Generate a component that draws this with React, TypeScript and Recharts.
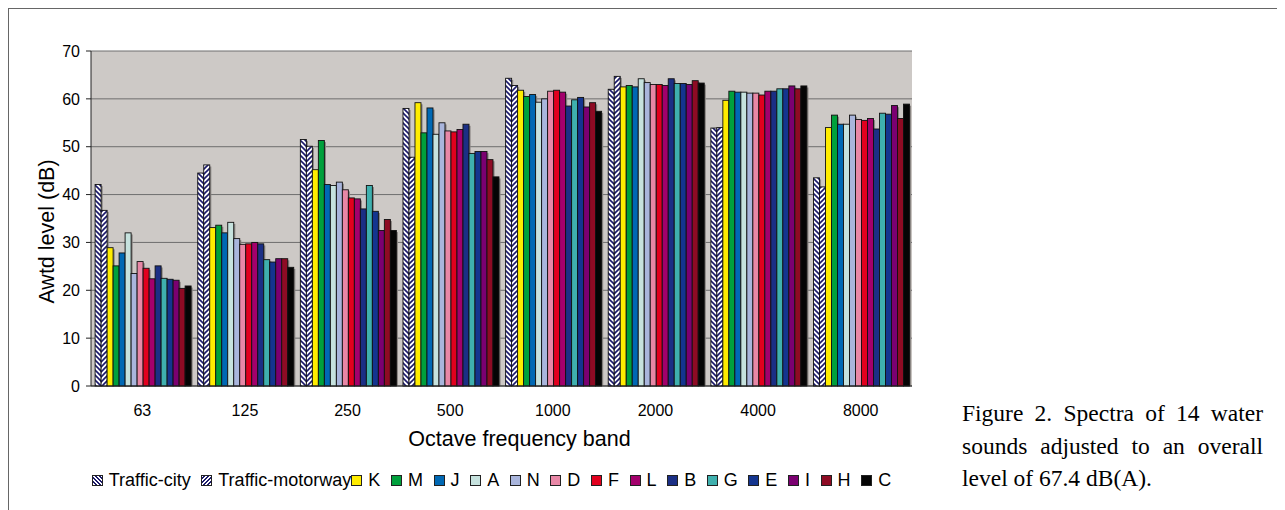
import React from 'react';
import { BarChart, Bar, XAxis, YAxis, CartesianGrid, Legend } from 'recharts';

const categories = ['63', '125', '250', '500', '1000', '2000', '4000', '8000'];
const yTicks = [0, 10, 20, 30, 40, 50, 60, 70];

const trafficCity = [42.1, 44.5, 51.5, 58.0, 64.3, 62.0, 53.9, 43.5];
const trafficMotorway = [36.7, 46.2, 50.1, 47.8, 62.8, 64.7, 54.0, 41.6];
const K = [28.9, 33.1, 45.2, 59.2, 61.8, 62.5, 59.7, 54.0];
const M = [25.1, 33.6, 51.3, 52.9, 60.5, 62.8, 61.6, 56.6];
const J = [27.8, 32.0, 42.1, 58.1, 60.9, 62.5, 61.4, 54.7];
const A = [32.0, 34.2, 41.9, 52.6, 59.3, 64.2, 61.4, 54.7];
const N = [23.5, 30.8, 42.6, 55.0, 60.0, 63.4, 61.2, 56.6];
const D = [26.0, 29.6, 41.0, 53.3, 61.6, 63.0, 61.2, 55.7];
const F = [24.6, 29.7, 39.3, 53.1, 61.8, 63.0, 60.8, 55.5];
const L = [22.4, 30.0, 39.1, 53.6, 61.4, 62.8, 61.6, 55.9];
const B = [25.1, 29.7, 37.0, 54.7, 58.5, 64.2, 61.6, 53.7];
const G = [22.5, 26.4, 41.9, 48.6, 59.8, 63.2, 62.1, 57.0];
const E = [22.3, 25.9, 36.5, 49.0, 60.3, 63.2, 62.1, 56.8];
const I = [22.1, 26.6, 32.5, 49.0, 58.3, 63.0, 62.7, 58.6];
const H = [20.4, 26.6, 34.8, 47.3, 59.2, 63.8, 62.1, 55.9];
const C = [20.9, 24.8, 32.5, 43.7, 57.4, 63.3, 62.7, 58.9];

const seriesNames = ['Traffic-city', 'Traffic-motorway', 'K', 'M', 'J', 'A', 'N', 'D', 'F', 'L', 'B', 'G', 'E', 'I', 'H', 'C'];
const seriesValues = [trafficCity, trafficMotorway, K, M, J, A, N, D, F, L, B, G, E, I, H, C];

const NAVY = '#1c1a6c';
const fills: Record<string, string> = {
  'Traffic-city': 'url(#patCity)',
  'Traffic-motorway': 'url(#patMotor)',
  K: '#ffec00',
  M: '#00a03c',
  J: '#0068b4',
  A: '#c6e2de',
  N: '#a9b5dc',
  D: '#e887a6',
  F: '#e2001e',
  L: '#a3006c',
  B: '#1b2f85',
  G: '#3fb0ae',
  E: '#14358f',
  I: '#7b0071',
  H: '#8e0b24',
  C: '#050505',
};
const legendBg: Record<string, string> = {
  'Traffic-city': `repeating-linear-gradient(45deg, #fff 0px, #fff 1.5px, ${NAVY} 1.5px, ${NAVY} 3px)`,
  'Traffic-motorway': `repeating-linear-gradient(-45deg, #fff 0px, #fff 1.5px, ${NAVY} 1.5px, ${NAVY} 3px)`,
};

const data = categories.map((band, i) => {
  const row: Record<string, string | number> = { band };
  seriesNames.forEach((name, s) => {
    row[name] = seriesValues[s][i];
  });
  return row;
});

const FONT = '"Liberation Sans", Arial, sans-serif';

const BarShape = (props: any) => {
  const { x, y, width, height, fill } = props;
  if (!height || height <= 0) return null;
  return (
    <g>
      <rect x={x + 1.6} y={y + 1.6} width={width} height={height - 1.6} fill="#8a8683" />
      <rect x={x} y={y} width={width} height={height} fill={fill} stroke="#111" strokeWidth={0.9} />
    </g>
  );
};

const LegendContent = () => (
  <div style={{ display: 'flex', alignItems: 'center', height: 24, fontFamily: FONT, fontSize: 18, color: '#000', whiteSpace: 'nowrap' }}>
    {seriesNames.map((name) => (
      <div key={name} style={{ display: 'flex', alignItems: 'center', marginRight: name === 'Traffic-motorway' ? 0 : 10.6 }}>
        <span
          style={{
            display: 'inline-block',
            width: 9,
            height: 9,
            border: '1px solid #222',
            background: legendBg[name] || fills[name],
            marginRight: 6,
          }}
        />
        <span>{name}</span>
      </div>
    ))}
  </div>
);

export default function App() {
  return (
    <div
      style={{
        position: 'relative',
        width: 1277,
        height: 502,
        borderTop: '1px solid #666',
        borderLeft: '1px solid #666',
        boxSizing: 'border-box',
        overflow: 'hidden',
      }}
    >
      <div style={{ position: 'absolute', left: 0, top: 0 }}>
        <BarChart
          width={910}
          height={500}
          data={data}
          margin={{ top: 42, right: 7, left: 42, bottom: 39 }}
          barCategoryGap="4%"
          barGap={0}
        >
          <defs>
            <pattern id="patCity" patternUnits="userSpaceOnUse" width="5" height="5">
              <rect width="5" height="5" fill="#fff" />
              <path d="M-1,-1 L6,6 M-1,4 L1,6 M4,-1 L6,1" stroke={NAVY} strokeWidth="1.6" />
            </pattern>
            <pattern id="patMotor" patternUnits="userSpaceOnUse" width="5" height="5">
              <rect width="5" height="5" fill="#fff" />
              <path d="M-1,6 L6,-1 M-1,1 L1,-1 M4,6 L6,4" stroke={NAVY} strokeWidth="1.6" />
            </pattern>
          </defs>
          <CartesianGrid yAxisId="l" vertical={false} fill="#cdc9c6" stroke="#6e6e6e" strokeWidth={1} />
          <XAxis
            dataKey="band"
            height={60}
            tickLine={false}
            tickSize={10}
            tickMargin={9}
            axisLine={{ stroke: '#222', strokeWidth: 1 }}
            tick={{ fontSize: 16, fill: '#000', fontFamily: FONT }}
            interval={0}
            label={{
              content: () => (
                <text x={510.5} y={437} textAnchor="middle" fontSize={21.5} fontFamily={FONT} fill="#000">
                  Octave frequency band
                </text>
              ),
            }}
          />
          <YAxis
            yAxisId="l"
            width={40}
            domain={[0, 70]}
            ticks={yTicks}
            interval={0}
            tickSize={5}
            tickMargin={6}
            axisLine={{ stroke: '#222', strokeWidth: 1 }}
            tickLine={{ stroke: '#222' }}
            tick={{ fontSize: 16, fill: '#000', fontFamily: FONT }}
            label={{
              content: () => (
                <text
                  x={45}
                  y={222.5}
                  transform="rotate(-90 45 222.5)"
                  textAnchor="middle"
                  fontSize={21.5}
                  fontFamily={FONT}
                  fill="#000"
                >
                  Awtd level (dB)
                </text>
              ),
            }}
          />
          <YAxis
            yAxisId="r"
            orientation="right"
            width={0}
            domain={[0, 70]}
            ticks={yTicks}
            tick={false}
            tickLine={false}
            axisLine={{ stroke: '#9c9c9c', strokeWidth: 1.5 }}
          />
          <Legend
            verticalAlign="bottom"
            height={40}
            content={<LegendContent />}
            wrapperStyle={{ position: 'absolute', left: 82.7, top: 459, width: 840, height: 24 }}
          />
          {seriesNames.map((name) => (
            <Bar
              key={name}
              yAxisId="l"
              dataKey={name}
              name={name}
              fill={fills[name]}
              shape={<BarShape />}
              isAnimationActive={false}
            />
          ))}
        </BarChart>
      </div>
      <div
        style={{
          position: 'absolute',
          left: 953,
          top: 388,
          width: 301,
          fontFamily: '"Liberation Serif", "Times New Roman", serif',
          fontSize: 23.5,
          lineHeight: '32.5px',
          textAlign: 'justify',
          color: '#000',
        }}
      >
        Figure 2. Spectra of 14 water sounds adjusted to an overall level of 67.4 dB(A).
      </div>
    </div>
  );
}
